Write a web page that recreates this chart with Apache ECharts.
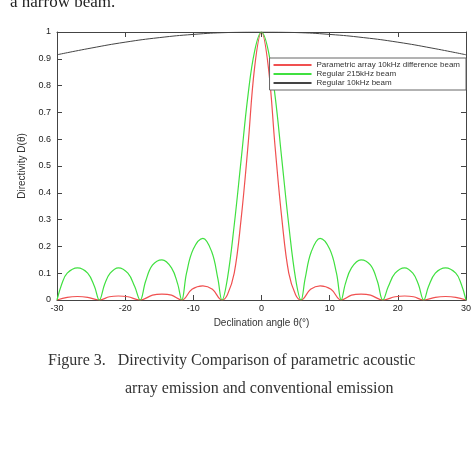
<!DOCTYPE html><html><head><meta charset="utf-8"><script src="https://cdn.jsdelivr.net/npm/echarts@6/dist/echarts.min.js"></script>
<style>body{margin:0;background:#fff}#c{width:474px;height:453px}</style></head><body><div id="c"></div>
<script>
var xTicks=[-30,-20,-10,0,10,20,30];
var green=[[-30,0],[-29.3,0.06],[-28.5,0.1],[-27,0.12],[-25.5,0.1],[-24.5,0.05],[-23.8,0],[-23,0.06],[-22.2,0.1],[-21,0.12],[-19.6,0.1],[-18.6,0.05],[-17.8,0],[-17,0.07],[-16,0.13],[-14.6,0.15],[-13.2,0.12],[-12.3,0.06],[-11.7,0],[-11,0.1],[-10,0.19],[-8.6,0.23],[-7.3,0.18],[-6.4,0.08],[-5.8,0],[-5,0.08],[-4,0.28],[-3,0.52],[-2,0.76],[-1,0.93],[0,1],[1,0.93],[2,0.76],[3,0.52],[4,0.28],[5,0.08],[5.8,0],[6.4,0.08],[7.3,0.18],[8.6,0.23],[10,0.19],[11,0.1],[11.7,0],[12.3,0.06],[13.2,0.12],[14.6,0.15],[16,0.13],[17,0.07],[17.8,0],[18.6,0.05],[19.6,0.1],[21,0.12],[22.2,0.1],[23,0.06],[23.8,0],[24.5,0.05],[25.5,0.1],[27,0.12],[28.5,0.1],[29.3,0.06],[30,0]];
var red=[[-30,0],[-28.5,0.01],[-27,0.013],[-25.5,0.01],[-23.8,0],[-22.3,0.012],[-21,0.015],[-19.6,0.012],[-17.8,0],[-16,0.018],[-14.6,0.022],[-13.2,0.018],[-11.7,0],[-10.2,0.04],[-8.6,0.053],[-7.2,0.04],[-5.8,0],[-5,0.02],[-4,0.1],[-3,0.3],[-2,0.57],[-1,0.87],[0,1],[1,0.87],[2,0.57],[3,0.3],[4,0.1],[5,0.02],[5.8,0],[7.2,0.04],[8.6,0.053],[10.2,0.04],[11.7,0],[13.2,0.018],[14.6,0.022],[16,0.018],[17.8,0],[19.6,0.012],[21,0.015],[22.3,0.012],[23.8,0],[25.5,0.01],[27,0.013],[28.5,0.01],[30,0]];
var black=[[-30,0.915],[-25,0.94],[-20,0.962],[-15,0.979],[-10,0.991],[-5,0.998],[0,1],[5,0.998],[10,0.991],[15,0.979],[20,0.962],[25,0.94],[30,0.915]];
var ch=echarts.init(document.getElementById('c'));
var F='Liberation Sans';
var ax={axisLine:{show:true,onZero:false,lineStyle:{color:'#444'}},axisTick:{inside:true,lineStyle:{color:'#444'}},splitLine:{show:false}};
function m(a,b){return Object.assign({},a,b);}
ch.setOption({animation:false,
graphic:[{type:'text',left:10,top:-6,style:{text:'a narrow beam.',font:'17px "Liberation Serif"',fill:'#222'}},
{type:'text',left:48,top:353,style:{text:'Figure 3.   Directivity Comparison of parametric acoustic',font:'16px "Liberation Serif"',fill:'#333'}},
{type:'text',left:125,top:381,style:{text:'array emission and conventional emission',font:'16px "Liberation Serif"',fill:'#333'}}],
grid:{left:57,right:6,top:32,bottom:153},
legend:{right:8,top:58,orient:'vertical',itemGap:1,itemWidth:38,itemHeight:2,backgroundColor:'#fff',borderColor:'#666',borderWidth:1,padding:[3,6,3,4],textStyle:{fontFamily:F,fontSize:8,color:'#333'},icon:'rect',
data:['Parametric array 10kHz difference beam','Regular 215kHz beam','Regular 10kHz beam']},
xAxis:[m(ax,{type:'value',min:-30,max:30,interval:10,name:'Declination angle θ(°)',nameLocation:'middle',nameGap:16,nameTextStyle:{fontFamily:F,fontSize:10,color:'#333'},axisLabel:{fontFamily:F,fontSize:9,color:'#222',margin:4}}),
m(ax,{type:'value',position:'top',min:-30,max:30,interval:10,axisLabel:{show:false}})],
yAxis:[m(ax,{type:'value',min:0,max:1,interval:0.1,name:'Directivity D(θ)',nameLocation:'middle',nameGap:26,nameTextStyle:{fontFamily:F,fontSize:10,color:'#333'},axisLabel:{fontFamily:F,fontSize:9,color:'#222',margin:6,formatter:function(v){return +v.toFixed(1)}}}),
m(ax,{type:'value',position:'right',min:0,max:1,interval:0.1,axisLabel:{show:false}})],
series:[
{name:'Parametric array 10kHz difference beam',type:'line',data:red,smooth:0.4,showSymbol:false,lineStyle:{color:'#f05050',width:1.2},itemStyle:{color:'#f05050'}},
{name:'Regular 215kHz beam',type:'line',data:green,smooth:0.4,showSymbol:false,lineStyle:{color:'#40e040',width:1.2},itemStyle:{color:'#40e040'}},
{name:'Regular 10kHz beam',type:'line',data:black,smooth:true,showSymbol:false,lineStyle:{color:'#444',width:1},itemStyle:{color:'#444'}}
]});
</script></body></html>
